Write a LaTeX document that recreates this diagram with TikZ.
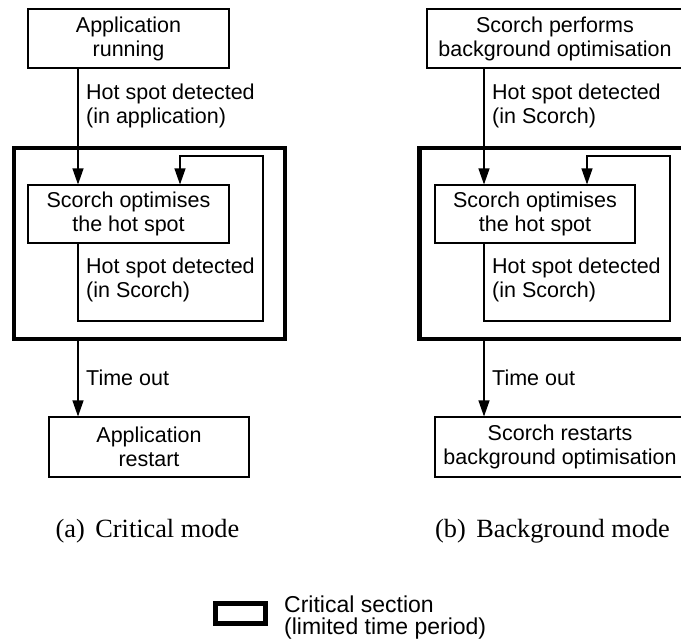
\documentclass[tikz,border=0pt]{standalone}
\usepackage{fontspec}
\setmainfont{Liberation Serif}
\setsansfont{Liberation Sans}
\usetikzlibrary{arrows.meta}
\begin{document}
\begin{tikzpicture}[x=1pt,y=-1pt,
  txt/.style={font=\sffamily\fontsize{21.5}{24}\selectfont},
  box/.style={txt, draw, line width=1.1pt, align=center, inner sep=0pt},
  lbl/.style={txt, anchor=west, align=left, inner sep=0pt},
  crit/.style={draw, line width=4.8pt, inner sep=0pt},
  arr/.style={line width=1.1pt, -{Triangle[length=16pt,width=11pt]}},
  captext/.style={font=\rmfamily\fontsize{26.3}{30}\selectfont, anchor=base, inner sep=0pt}]
\useasboundingbox (0,0) rectangle (681,643);
\clip (0,0) rectangle (681,643);

% ---------- (a) Critical mode ----------
\node[crit, minimum width=271pt, minimum height=191pt] (C1) at (149.5,243.5) {};
\node[box, minimum width=201pt, minimum height=59pt] (A1) at (128.5,38.5) {Application\\running};
\node[box, minimum width=201pt, minimum height=58pt] (A2) at (128.5,214) {Scorch optimises\\the hot spot};
\node[box, minimum width=200pt, minimum height=60pt] (A3) at (149,447) {Application\\restart};
\coordinate (xa) at (78,0);
\coordinate (xb) at (180,0);
\coordinate (la1) at (263,321);
\coordinate (la2) at (263,156);
\draw[arr] (A1.south -| xa) -- (A2.north -| xa);
\draw[arr] (A2.south -| xa) |- (la1) -- (la2) -| (A2.north -| xb);
\draw[arr] (C1.south -| xa) -- (A3.north -| xa);
\node[lbl] (ta1) at (86,106) {Hot spot detected\\(in application)};
\node[lbl] (ta2) at (86,280) {Hot spot detected\\(in Scorch)};
\node[lbl] (ta3) at (86,378) {Time out};
\node[captext] (capa) at (147.5,537.5) {(a)\hspace{0.4em}Critical mode};

% ---------- (b) Background mode ----------
\node[crit, minimum width=271pt, minimum height=191pt] (C2) at (555,243.5) {};
\node[box, minimum width=256pt, minimum height=59pt] (B1) at (555,38.5) {Scorch performs\\background optimisation};
\node[box, minimum width=200pt, minimum height=58pt] (B2) at (535,214) {Scorch optimises\\the hot spot};
\node[box, minimum width=250pt, minimum height=60pt] (B3) at (560,447) {Scorch restarts\\background optimisation};
\coordinate (xc) at (484,0);
\coordinate (xd) at (587,0);
\coordinate (lb1) at (670,321);
\coordinate (lb2) at (670,156);
\draw[arr] (B1.south -| xc) -- (B2.north -| xc);
\draw[arr] (B2.south -| xc) |- (lb1) -- (lb2) -| (B2.north -| xd);
\draw[arr] (C2.south -| xc) -- (B3.north -| xc);
\node[lbl] (tb1) at (492,106) {Hot spot detected\\(in Scorch)};
\node[lbl] (tb2) at (492,280) {Hot spot detected\\(in Scorch)};
\node[lbl] (tb3) at (492,378) {Time out};
\node[captext] (capb) at (552.5,537.5) {(b)\hspace{0.4em}Background mode};

% ---------- legend ----------
\node[draw, line width=5pt, minimum width=50pt, minimum height=20pt, inner sep=0pt] (leg) at (240.5,613.7) {};
\node[lbl, font=\sffamily\fontsize{23}{22.5}\selectfont] (legt) at (284,617.5) {Critical section\\(limited time period)};
\end{tikzpicture}
\end{document}
